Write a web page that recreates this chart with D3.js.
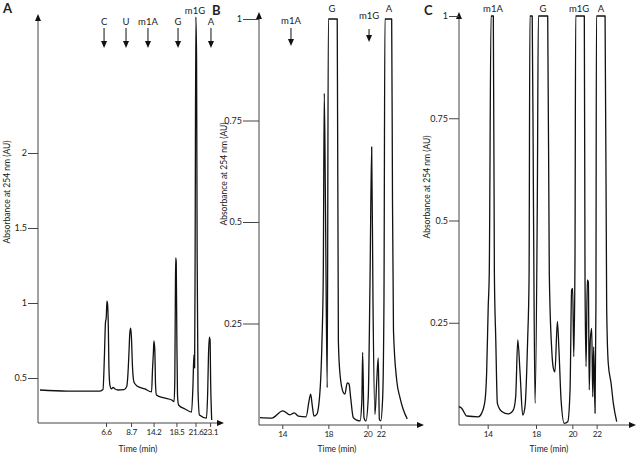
<!DOCTYPE html>
<html><head><meta charset="utf-8">
<script src="https://cdn.jsdelivr.net/npm/d3@7"></script>
<style>
html,body{margin:0;padding:0;background:#fff;}
svg{display:block;}
text{font-family:Lato,"Open Sans",sans-serif;fill:#222;}
</style></head>
<body>
<script>
// ---------------- DATA ----------------
// x values are relative positions along each (non-linear) time axis, 0..100
const traceA = [[1.1,0.42],[16.1,0.413],[34.4,0.413],[36.1,0.423],[36.9,0.647],[37.5,0.873],[37.9,0.90],[38.3,1.013],[38.7,0.987],[39.1,0.82],[39.4,0.573],[40.0,0.447],[40.8,0.427],[41.7,0.437],[42.8,0.427],[44.4,0.42],[47.8,0.423],[49.3,0.443],[50.0,0.533],[50.6,0.687],[51.0,0.80],[51.5,0.833],[51.9,0.773],[52.5,0.573],[53.3,0.473],[55.0,0.447],[59.4,0.427],[63.1,0.407],[63.6,0.553],[64.1,0.667],[64.4,0.747],[64.9,0.687],[65.3,0.453],[65.8,0.387],[70.0,0.367],[74.3,0.353],[75.6,0.343],[76.0,0.487],[76.3,1.02],[76.5,1.30],[76.8,1.273],[77.1,0.82],[77.5,0.387],[78.1,0.32],[81.7,0.293],[85.3,0.273],[86.1,0.453],[86.6,0.653],[87.0,0.567],[87.3,1.353],[87.7,2.907],[88.1,2.62],[88.4,1.353],[88.9,0.42],[89.7,0.253],[93.6,0.233],[94.3,0.42],[94.7,0.647],[95.2,0.773],[95.6,0.753],[95.9,0.487],[96.5,0.22]];
const traceB = [[0.6,0.018],[7.7,0.017],[14.5,0.035],[18.9,0.025],[21.5,0.030],[24.0,0.022],[28.7,0.020],[30.5,0.059],[31.5,0.076],[32.5,0.047],[33.5,0.022],[35.2,0.026],[37.2,0.084],[38.4,0.207],[39.2,0.373],[39.8,0.817],[40.5,0.553],[41.6,0.092],[42.3,1.0],[47.7,1.0],[48.4,0.207],[49.4,0.125],[51.4,0.080],[52.4,0.076],[53.8,0.104],[54.9,0.101],[55.9,0.067],[57.5,0.018],[59.6,0.012],[61.6,0.010],[62.7,0.059],[63.2,0.179],[64.0,0.018],[65.2,0.010],[66.6,0.067],[67.7,0.356],[68.7,0.685],[69.5,0.306],[70.7,0.026],[71.8,0.109],[72.7,0.165],[73.4,0.014],[74.2,0.010],[75.4,0.067],[76.2,0.306],[76.8,1.0],[80.9,1.0],[81.4,0.553],[82.0,0.232],[84.0,0.109],[86.0,0.067],[87.8,0.040],[90.4,0.015]];
const traceC = [[0,0.045],[1.5,0.041],[4.4,0.022],[11.0,0.020],[12.9,0.029],[14.8,0.061],[15.7,0.127],[16.6,0.289],[17.2,0.372],[18.2,1.0],[19.5,1.0],[20.1,0.372],[20.9,0.208],[21.8,0.053],[24.3,0.033],[28.0,0.027],[30.9,0.037],[32.2,0.069],[33.4,0.208],[34.7,0.127],[36.2,0.024],[37.5,0.045],[39.0,0.208],[39.8,0.355],[40.3,1.0],[41.6,1.0],[42.3,0.55],[43.2,0.053],[44.5,0.55],[45.1,1.0],[50.4,1.0],[51.3,0.372],[52.7,0.183],[53.6,0.139],[54.5,0.130],[55.9,0.253],[56.8,0.183],[58.0,0.061],[59.8,0.004],[61.8,0.008],[63.1,0.086],[64.0,0.330],[64.6,0.334],[65.2,0.167],[65.9,0.403],[66.3,1.0],[71.2,1.0],[71.6,0.355],[72.2,0.143],[72.9,0.355],[73.5,0.350],[74.0,0.086],[74.6,0.208],[75.4,0.236],[76.0,0.069],[76.5,0.191],[77.3,0.029],[77.8,0.289],[78.1,1.0],[83.0,1.0],[83.9,0.289],[84.8,0.151],[86.4,0.102],[87.7,0.053],[89.6,0.008]];

const xTickPosA = [37.8,51.7,64.2,76.9,87.5,95.6];
const xTickLabA = ["6.6","8.7","14.2","18.5","21.6","23.1"];
const xTickPosB = [14.2,42.3,66.2,74.2];
const xTickLabB = ["14","18","20","22"];
const xTickPosC = [16.3,43.75,64.4,78.2];
const xTickLabC = ["14","18","20","22"];

const yTicksA = [0.5,1,1.5,2];
const yTicksB = [0.25,0.5,0.75,1];
const yTicksC = [0.25,0.5,0.75,1];

const peakLabA = ["C","U","m1A","G","m1G","A"];
const peakPosA = [36.7,48.9,61.1,77.8,87.2,96.1];
const peakArrowA = [true,true,true,true,false,true];
const peakLabB = ["m1A","G","m1G","A"];
const peakPosB = [19.5,44.5,67.1,79.3];
const peakArrowB = [true,false,true,false];
const peakLabC = ["m1A","G","m1G","A"];
const peakPosC = [19.3,47.7,68.2,80.7];
const peakArrowC = [false,false,false,false];

const yTitle = "Absorbance at 254 nm (AU)";
const xTitle = "Time (min)";

// ---------------- LAYOUT ----------------
const panels = [
  {letter:"A", trace:traceA, xt:xTickPosA, xl:xTickLabA, yt:yTicksA,
   pl:peakLabA, pp:peakPosA, pa:peakArrowA,
   xr:[38,218], axisEnd:224, yDom:[0.2,2.92], yr:[423,15], yTop:14,
   tickLen:10, yTitleX:8, yTitleY:192, xTitleX:138,
   labY:[25,25,25,25,14,25], arrowY:[28,48], letterX:3, letterY:13},
  {letter:"B", trace:traceB, xt:xTickPosB, xl:xTickLabB, yt:yTicksB,
   pl:peakLabB, pp:peakPosB, pa:peakArrowB,
   xr:[259,423], axisEnd:424, yDom:[0,1], yr:[425,19], yTop:12,
   tickLen:16, yTitleX:225, yTitleY:174, xTitleX:337,
   labY:[24,12,19,12], arrowY:[28,46], arrowYB:[29,42], letterX:212, letterY:15},
  {letter:"C", trace:traceC, xt:xTickPosC, xl:xTickLabC, yt:yTicksC,
   pl:peakLabC, pp:peakPosC, pa:peakArrowC,
   xr:[459,635], axisEnd:636, yDom:[0,1], yr:[425,16], yTop:12,
   tickLen:10, yTitleX:428, yTitleY:187, xTitleX:549,
   labY:[12,12,12,12], arrowY:[28,46], letterX:424, letterY:15}
];

const svg = d3.select("body").append("svg").attr("width",640).attr("height",454);
const axisColor = "#444";

function arrowHead(g, x, y, dir){
  let p;
  if(dir==="up") p=[[x,y],[x-3,y+7],[x+3,y+7]];
  else if(dir==="right") p=[[x,y],[x-7,y-3],[x-7,y+3]];
  else p=[[x,y],[x-3,y-7],[x+3,y-7]];
  g.append("path").attr("d","M"+p.map(d=>d.join(",")).join("L")+"Z").attr("fill","#111");
}

panels.forEach(P=>{
  const g = svg.append("g");
  const x = d3.scaleLinear().domain([0,100]).range(P.xr);
  const y = d3.scaleLinear().domain(P.yDom).range(P.yr);
  const y0 = y(P.yDom[0]);

  g.append("line").attr("x1",P.xr[0]).attr("x2",P.xr[0]).attr("y1",y0).attr("y2",P.yTop+3)
    .attr("stroke",axisColor).attr("stroke-width",1);
  arrowHead(g,P.xr[0],P.yTop,"up");
  g.append("line").attr("x1",P.xr[0]).attr("x2",P.axisEnd-3).attr("y1",y0).attr("y2",y0)
    .attr("stroke",axisColor).attr("stroke-width",1);
  arrowHead(g,P.axisEnd,y0,"right");

  const yAx = d3.axisLeft(y).tickValues(P.yt).tickSize(P.tickLen).tickPadding(1)
    .tickFormat(d=>String(d));
  const ya = g.append("g").attr("transform",`translate(${P.xr[0]},0)`).call(yAx);
  ya.select(".domain").remove();
  ya.selectAll("line").attr("stroke",axisColor);
  ya.selectAll("text").attr("font-size",9).attr("font-family","Lato, sans-serif").attr("fill","#222");

  const xAx = d3.axisBottom(x).tickValues(P.xt).tickSize(4).tickPadding(2)
    .tickFormat((d,i)=>P.xl[i]);
  const xa = g.append("g").attr("transform",`translate(0,${y0})`).call(xAx);
  xa.select(".domain").remove();
  xa.selectAll("line").attr("stroke",axisColor);
  xa.selectAll("text").attr("font-size",8.2).attr("letter-spacing","-0.3")
    .attr("font-family","Lato, sans-serif").attr("fill","#222");

  g.append("text").attr("x",P.xTitleX).attr("y",452).attr("text-anchor","middle")
    .attr("font-size",8.5).text(xTitle);
  g.append("text").attr("transform",`translate(${P.yTitleX},${P.yTitleY}) rotate(-90)`)
    .attr("text-anchor","middle").attr("dominant-baseline","middle").attr("font-size",8.5).text(yTitle);
  g.append("text").attr("x",P.letterX).attr("y",P.letterY)
    .attr("font-family","Liberation Sans, Arial, sans-serif").attr("font-weight","bold")
    .attr("font-size",13).attr("fill","#000").text(P.letter);

  const line = d3.line().x(d=>x(d[0])).y(d=>y(d[1])).curve(d3.curveMonotoneX);
  g.append("path").datum(P.trace).attr("d",line).attr("fill","none")
    .attr("stroke","#111").attr("stroke-width",1.3).attr("stroke-linejoin","round");

  P.pl.forEach((lab,i)=>{
    const px = x(P.pp[i]);
    g.append("text").attr("x",px).attr("y",P.labY[i]).attr("text-anchor","middle")
      .attr("font-size",9.5).text(lab);
    if(P.pa[i]){
      const ay = (P.letter==="B" && lab==="m1G") ? P.arrowYB : P.arrowY;
      g.append("line").attr("x1",px).attr("x2",px).attr("y1",ay[0]).attr("y2",ay[1]-4)
        .attr("stroke","#111").attr("stroke-width",1);
      arrowHead(g,px,ay[1],"down");
    }
  });
});
</script>
</body></html>
